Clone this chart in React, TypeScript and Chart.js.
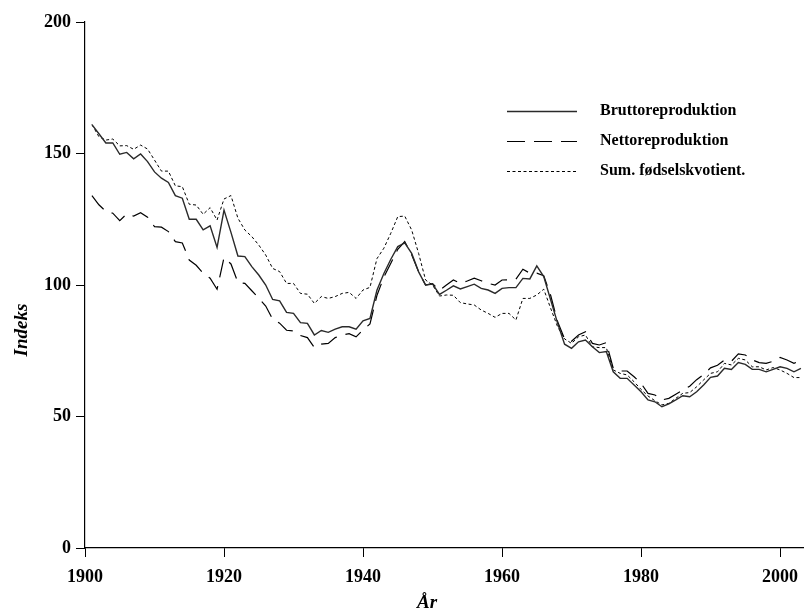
import React, { useEffect, useRef } from "react";
import { Chart, registerables } from "chart.js";

Chart.register(...registerables);

const YEARS = [
  1901, 1902, 1903, 1904, 1905, 1906, 1907, 1908, 1909, 1910,
  1911, 1912, 1913, 1914, 1915, 1916, 1917, 1918, 1919, 1920,
  1921, 1922, 1923, 1924, 1925, 1926, 1927, 1928, 1929, 1930,
  1931, 1932, 1933, 1934, 1935, 1936, 1937, 1938, 1939, 1940,
  1941, 1942, 1943, 1944, 1945, 1946, 1947, 1948, 1949, 1950,
  1951, 1952, 1953, 1954, 1955, 1956, 1957, 1958, 1959, 1960,
  1961, 1962, 1963, 1964, 1965, 1966, 1967, 1968, 1969, 1970,
  1971, 1972, 1973, 1974, 1975, 1976, 1977, 1978, 1979, 1980,
  1981, 1982, 1983, 1984, 1985, 1986, 1987, 1988, 1989, 1990,
  1991, 1992, 1993, 1994, 1995, 1996, 1997, 1998, 1999, 2000,
  2001, 2002, 2003,
];

const BRUTTO = [
  161, 157.5, 154, 154, 149.7, 150.4, 148, 149.8, 146.9, 143,
  140.6, 139, 134, 133, 125, 125, 121, 122.5, 114.3, 128.5,
  120, 111, 110.8, 107, 103.8, 100, 94.5, 94, 89.6, 89.2,
  85.7, 85.4, 81, 82.7, 82, 83.2, 84.1, 84.1, 83.2, 86.4,
  87.3, 98, 104.4, 109.8, 114.6, 116, 112, 105, 100, 100.4,
  96.4, 98, 99.7, 98.5, 99.4, 100.3, 98.7, 98.1, 96.8, 98.7,
  99, 99, 102.5, 102.3, 107.3, 103.2, 94.3, 85.4, 77.5, 75.9,
  78.4, 79.1, 76.5, 74.3, 74.7, 67, 64.5, 64.5, 62, 59.4,
  56.3, 55.6, 53.7, 54.8, 56.3, 57.9, 57.5, 59.4, 62, 64.9,
  65.4, 68.3, 67.9, 70.5, 69.8, 67.9, 67.9, 67, 67.9, 68.9,
  68.3, 67, 68.3,
];

const NETTO = [
  134, 130.5, 128, 127.3, 124.5, 127, 126.2, 127.5, 125.8, 122.2,
  122, 120.3, 116.5, 116, 109.5, 107.5, 104.5, 102.6, 98.4, 110.4,
  108, 101, 100.6, 97.8, 95, 92, 87, 85.5, 82.8, 82.5,
  80.8, 80, 76.2, 77.5, 77.8, 80, 81, 81.5, 80.3, 82.9,
  85.2, 96, 103, 108.3, 113.6, 116.5, 111.5, 105, 100, 100.5,
  98, 100, 101.9, 100.6, 101.5, 102.6, 101.6, 100.6, 100, 101.9,
  102, 102.2, 106, 104.5, 104.5, 103.5, 96, 86, 79.5, 78.6,
  81, 82.2, 77.8, 77.2, 78.1, 68.3, 67.3, 67.3, 65.1, 62.6,
  58.8, 58.2, 56.3, 56.9, 58.5, 60, 61.5, 64, 66, 68.5,
  69.5, 71.5, 71, 73.8, 73.4, 71.5, 70.5, 70.2, 71, 72.5,
  71.5, 70.2, 71.5,
];

const SUM = [
  161, 156.4, 155.1, 155.5, 152.9, 153, 151.6, 153.2, 151.7, 147.5,
  143.3, 143.3, 137.7, 137.4, 130.7, 130.4, 126.9, 129.4, 124.7, 132.7,
  134, 125.4, 120.9, 118.4, 115.2, 111.4, 106.3, 105.1, 100.6, 100.6,
  96.8, 96.5, 93, 95.6, 94.9, 95.6, 96.8, 97.2, 94.9, 98.1,
  99.1, 110, 114, 119.7, 126, 126.2, 120.9, 112, 101.9, 100,
  95.8, 96.2, 96.1, 93.3, 92.8, 92.4, 90.5, 89.2, 87.7, 89.2,
  89.2, 86.7, 94.9, 94.9, 96.2, 98.4, 91.1, 84.1, 79.5, 77.8,
  80.3, 81, 76.5, 76.2, 76.2, 67.7, 66.4, 65.8, 63.2, 60.3,
  57.8, 56, 54.4, 55, 56.9, 58.8, 59.1, 61.3, 63.9, 66.4,
  67, 70.2, 69.6, 72.1, 71.5, 68.9, 68.9, 67.7, 68.6, 67.7,
  66.4, 64.8, 64.8,
];

const SERIES_LABELS = ["Bruttoreproduktion", "Nettoreproduktion", "Sum. fødselskvotient."];
const X_TICKS = [1900, 1920, 1940, 1960, 1980, 2000];
const Y_TICKS = [0, 50, 100, 150, 200];
const X_TITLE = "År";
const Y_TITLE = "Indeks";

const FONT = "'Liberation Serif', 'Times New Roman', serif";

const overlayPlugin = {
  id: "overlay",
  afterDraw(chart: any) {
    const ctx = chart.ctx;
    const x0 = 507;
    const x1 = 577;
    const tx = 600;
    const rows = [111, 141, 171];
    chart.data.datasets.forEach((ds: any, i: number) => {
      const y = rows[i];
      ctx.save();
      ctx.beginPath();
      ctx.strokeStyle = ds.borderColor;
      ctx.lineWidth = ds.borderWidth;
      ctx.setLineDash(ds.borderDash || []);
      ctx.moveTo(x0, y + 0.5);
      ctx.lineTo(x1, y + 0.5);
      ctx.stroke();
      ctx.setLineDash([]);
      ctx.fillStyle = "#000";
      ctx.font = `bold 16px ${FONT}`;
      ctx.textBaseline = "middle";
      ctx.textAlign = "left";
      ctx.fillText(ds.label, tx, y);
      ctx.restore();
    });
    ctx.save();
    ctx.fillStyle = "#000";
    ctx.font = `italic bold 19px ${FONT}`;
    ctx.textAlign = "center";
    ctx.textBaseline = "middle";
    ctx.fillText(X_TITLE, 427, 603);
    ctx.translate(22, 330);
    ctx.rotate(-Math.PI / 2);
    ctx.fillText(Y_TITLE, 0, 0);
    ctx.restore();
  },
};

export default function App() {
  const ref = useRef<HTMLCanvasElement | null>(null);

  useEffect(() => {
    if (!ref.current) return;
    const mk = (vals: number[]) => YEARS.map((yr, i) => ({ x: yr, y: vals[i] }));
    const chart = new Chart(ref.current, {
      type: "line",
      data: {
        datasets: [
          {
            label: SERIES_LABELS[0],
            data: mk(BRUTTO),
            borderColor: "#2a2a2a",
            borderWidth: 1.4,
            pointRadius: 0,
            tension: 0,
            fill: false,
          },
          {
            label: SERIES_LABELS[1],
            data: mk(NETTO),
            borderColor: "#000",
            borderWidth: 1.2,
            borderDash: [18, 9],
            pointRadius: 0,
            tension: 0,
            fill: false,
          },
          {
            label: SERIES_LABELS[2],
            data: mk(SUM),
            borderColor: "#000",
            borderWidth: 1,
            borderDash: [3, 2.5],
            pointRadius: 0,
            tension: 0,
            fill: false,
          },
        ],
      },
      options: {
        animation: false,
        responsive: true,
        maintainAspectRatio: false,
        layout: { padding: { left: 0, right: 2, top: 22, bottom: 0 } },
        plugins: {
          legend: { display: false },
          tooltip: { enabled: false },
        },
        scales: {
          x: {
            type: "linear",
            min: 1900,
            max: 2003.3,
            afterFit(scale: any) {
              scale.height = 68;
              scale.paddingLeft = 0;
              scale.paddingRight = 0;
            },
            afterBuildTicks(scale: any) {
              scale.ticks = X_TICKS.map((v) => ({ value: v }));
            },
            ticks: {
              includeBounds: false,
              autoSkip: false,
              maxRotation: 0,
              padding: 10,
              color: "#000",
              font: { family: FONT, size: 18, weight: "bold" },
              callback: (v: any) => String(v),
            },
            grid: {
              display: true,
              drawOnChartArea: false,
              drawTicks: true,
              tickLength: 9,
              color: "#000",
              lineWidth: 1,
            },
            border: { display: true, color: "#000", width: 1.2 },
            title: { display: false },
          },
          y: {
            type: "linear",
            min: 0,
            max: 200,
            afterFit(scale: any) {
              scale.width = 85;
              scale.paddingTop = 0;
              scale.paddingBottom = 0;
            },
            afterBuildTicks(scale: any) {
              scale.ticks = Y_TICKS.map((v) => ({ value: v }));
            },
            ticks: {
              autoSkip: false,
              padding: 5,
              color: "#000",
              font: { family: FONT, size: 18, weight: "bold" },
              callback: (v: any) => String(v),
            },
            grid: {
              display: true,
              drawOnChartArea: false,
              drawTicks: true,
              tickLength: 9,
              color: "#000",
              lineWidth: 1,
            },
            border: { display: true, color: "#000", width: 1.2 },
            title: { display: false },
          },
        },
      },
      plugins: [overlayPlugin],
    });
    return () => chart.destroy();
  }, []);

  return (
    <div style={{ position: "absolute", left: 0, top: 0, width: 805, height: 616, background: "#fff" }}>
      <canvas ref={ref} />
    </div>
  );
}
